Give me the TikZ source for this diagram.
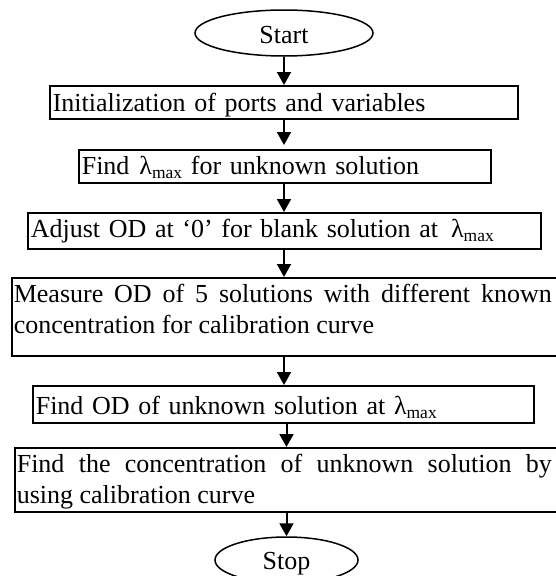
\documentclass[tikz,border=0pt]{standalone}
\usepackage{fontspec}
\setmainfont{Liberation Serif}
\usetikzlibrary{arrows.meta,shapes.geometric,calc}
\newcommand{\lmax}{λ\raisebox{-4pt}{\fontsize{17.5}{17.5}\selectfont max}}
\begin{document}
\begin{tikzpicture}[x=1pt,y=-1pt,
  font=\fontsize{26}{30.5}\selectfont,
  box/.style={draw, line width=1.6pt, rectangle, anchor=north west, inner xsep=3pt, inner ysep=0pt, align=left},
  wide/.style={draw, line width=1.6pt, rectangle, anchor=north west, inner xsep=2pt, inner ysep=0pt},
  term/.style={draw, ellipse, line width=1.5pt, inner sep=0pt},
  arr/.style={line width=2pt, -{Triangle[width=14pt,length=13pt]}}]
\useasboundingbox (0,0) rectangle (556,576);
\clip (0,0) rectangle (556,576);
\node[term, minimum width=178pt, minimum height=46pt, text height=20pt, text depth=0pt] (start) at (284,33) {Start};
\node[box, text width=462pt, text height=26pt, text depth=7pt] (b1) at (49,85) {Initialization of ports and variables};
\node[box, text width=406pt, text height=25pt, text depth=8pt] (b2) at (78,149) {Find\hspace{10pt}\lmax{} for unknown solution};
\node[box, text width=507pt, text height=25pt, text depth=11pt] (b3) at (27,212) {Adjust OD at ‘0’ for blank solution at\hspace{13pt}\lmax};
\node[wide, text height=25pt, text depth=53pt] (b4) at (11,277) {\parbox[t]{538pt}{\tolerance=10000 Measure OD of 5 solutions with different known\linebreak concentration for calibration curve}\kern20pt};
\node[box, text width=495pt, text height=29pt, text depth=8pt] (b5) at (32,385) {Find OD of unknown solution at \lmax};
\node[wide, text height=25pt, text depth=39pt] (b6) at (14,447) {\parbox[t]{535pt}{\tolerance=10000 Find the concentration of unknown solution by\linebreak using calibration curve}\kern20pt};
\node[term, minimum width=143pt, minimum height=46pt, text height=18pt, text depth=0pt] (stop) at (286.5,560) {Stop};
\draw[arr] (start.south) -- (start.south |- b1.north);
\draw[arr, shorten >=4pt] (b1.south -| start) -- (b2.north -| start);
\draw[arr] (b2.south -| start) -- (b3.north -| start);
\draw[arr] (b3.south -| start) -- (b4.north -| start);
\draw[arr] (b4.south -| start) -- (b5.north -| start);
\draw[arr] (b5.south -| stop) -- (b6.north -| stop);
\draw[arr] (b6.south -| stop) -- (stop.north);
\end{tikzpicture}
\end{document}
